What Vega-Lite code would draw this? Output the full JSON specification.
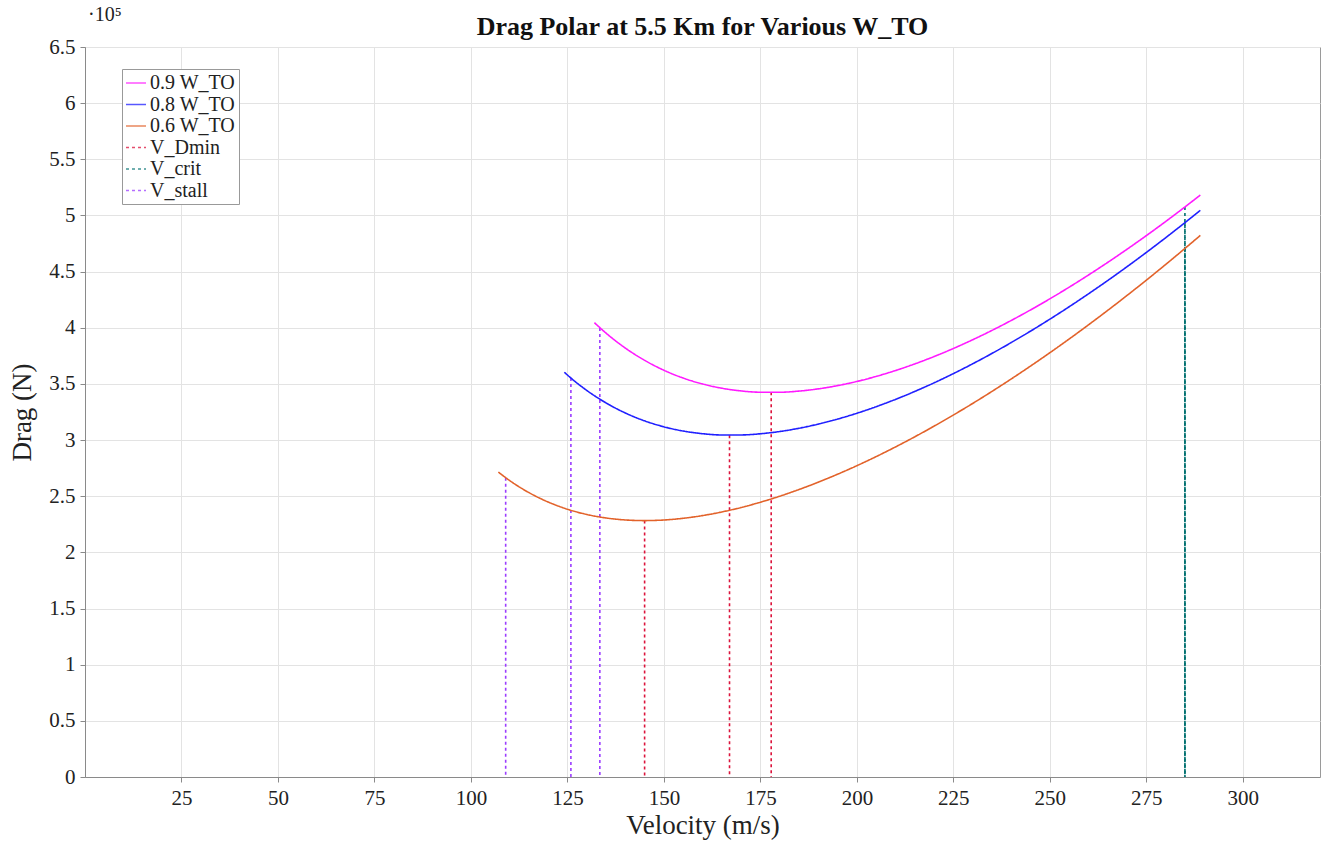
{
  "$schema": "https://vega.github.io/schema/vega-lite/v6.json",
  "width": 1235,
  "height": 730,
  "autosize": {"type": "none"},
  "padding": {"left": 85, "top": 47, "right": 3, "bottom": 67},
  "background": "white",
  "config": {
    "font": "Liberation Serif",
    "view": {"stroke": "#9a9a9a", "strokeWidth": 1},
    "axis": {
      "gridColor": "#e3e3e3",
      "gridWidth": 1,
      "domainColor": "#8a8a8a",
      "tickColor": "#8a8a8a",
      "labelFont": "Liberation Serif",
      "labelFontSize": 21,
      "labelColor": "#222222",
      "titleFont": "Liberation Serif",
      "titleFontSize": 27,
      "titleFontWeight": "normal",
      "titleColor": "#222222"
    }
  },
  "title": {
    "text": "Drag Polar at 5.5 Km for Various W_TO",
    "fontSize": 26,
    "fontWeight": "bold",
    "font": "Liberation Serif",
    "offset": 2,
    "dy": 37,
    "color": "#111111"
  },
  "datasets": {
    "curves": [
      {"series": "0.9 W_TO", "v": 132, "drag": 404529},
      {"series": "0.9 W_TO", "v": 135, "drag": 395258},
      {"series": "0.9 W_TO", "v": 140, "drag": 381938},
      {"series": "0.9 W_TO", "v": 145, "drag": 371003},
      {"series": "0.9 W_TO", "v": 150, "drag": 362175},
      {"series": "0.9 W_TO", "v": 155, "drag": 355222},
      {"series": "0.9 W_TO", "v": 160, "drag": 349946},
      {"series": "0.9 W_TO", "v": 165, "drag": 346179},
      {"series": "0.9 W_TO", "v": 170, "drag": 343778},
      {"series": "0.9 W_TO", "v": 175, "drag": 342621},
      {"series": "0.9 W_TO", "v": 180, "drag": 342599},
      {"series": "0.9 W_TO", "v": 185, "drag": 343622},
      {"series": "0.9 W_TO", "v": 190, "drag": 345607},
      {"series": "0.9 W_TO", "v": 195, "drag": 348488},
      {"series": "0.9 W_TO", "v": 200, "drag": 352200},
      {"series": "0.9 W_TO", "v": 210, "drag": 361912},
      {"series": "0.9 W_TO", "v": 220, "drag": 374382},
      {"series": "0.9 W_TO", "v": 230, "drag": 389326},
      {"series": "0.9 W_TO", "v": 240, "drag": 406518},
      {"series": "0.9 W_TO", "v": 250, "drag": 425775},
      {"series": "0.9 W_TO", "v": 260, "drag": 446950},
      {"series": "0.9 W_TO", "v": 270, "drag": 469921},
      {"series": "0.9 W_TO", "v": 280, "drag": 494590},
      {"series": "0.9 W_TO", "v": 289, "drag": 518173},
      {"series": "0.8 W_TO", "v": 124.2, "drag": 360379},
      {"series": "0.8 W_TO", "v": 125, "drag": 357932},
      {"series": "0.8 W_TO", "v": 130, "drag": 344252},
      {"series": "0.8 W_TO", "v": 135, "drag": 333091},
      {"series": "0.8 W_TO", "v": 140, "drag": 324132},
      {"series": "0.8 W_TO", "v": 145, "drag": 317115},
      {"series": "0.8 W_TO", "v": 150, "drag": 311819},
      {"series": "0.8 W_TO", "v": 155, "drag": 308063},
      {"series": "0.8 W_TO", "v": 160, "drag": 305688},
      {"series": "0.8 W_TO", "v": 165, "drag": 304563},
      {"series": "0.8 W_TO", "v": 170, "drag": 304574},
      {"series": "0.8 W_TO", "v": 175, "drag": 305625},
      {"series": "0.8 W_TO", "v": 180, "drag": 307630},
      {"series": "0.8 W_TO", "v": 185, "drag": 310517},
      {"series": "0.8 W_TO", "v": 190, "drag": 314222},
      {"series": "0.8 W_TO", "v": 195, "drag": 318692},
      {"series": "0.8 W_TO", "v": 200, "drag": 323875},
      {"series": "0.8 W_TO", "v": 210, "drag": 336220},
      {"series": "0.8 W_TO", "v": 220, "drag": 350973},
      {"series": "0.8 W_TO", "v": 230, "drag": 367909},
      {"series": "0.8 W_TO", "v": 240, "drag": 386848},
      {"series": "0.8 W_TO", "v": 250, "drag": 407647},
      {"series": "0.8 W_TO", "v": 260, "drag": 430189},
      {"series": "0.8 W_TO", "v": 270, "drag": 454379},
      {"series": "0.8 W_TO", "v": 280, "drag": 480138},
      {"series": "0.8 W_TO", "v": 289, "drag": 504608},
      {"series": "0.6 W_TO", "v": 107.1, "drag": 271519},
      {"series": "0.6 W_TO", "v": 110, "drag": 264050},
      {"series": "0.6 W_TO", "v": 115, "drag": 253286},
      {"series": "0.6 W_TO", "v": 120, "drag": 244859},
      {"series": "0.6 W_TO", "v": 125, "drag": 238444},
      {"series": "0.6 W_TO", "v": 130, "drag": 233779},
      {"series": "0.6 W_TO", "v": 135, "drag": 230649},
      {"series": "0.6 W_TO", "v": 140, "drag": 228877},
      {"series": "0.6 W_TO", "v": 145, "drag": 228316},
      {"series": "0.6 W_TO", "v": 150, "drag": 228842},
      {"series": "0.6 W_TO", "v": 155, "drag": 230352},
      {"series": "0.6 W_TO", "v": 160, "drag": 232758},
      {"series": "0.6 W_TO", "v": 165, "drag": 235986},
      {"series": "0.6 W_TO", "v": 170, "drag": 239972},
      {"series": "0.6 W_TO", "v": 175, "drag": 244661},
      {"series": "0.6 W_TO", "v": 180, "drag": 250006},
      {"series": "0.6 W_TO", "v": 185, "drag": 255966},
      {"series": "0.6 W_TO", "v": 190, "drag": 262505},
      {"series": "0.6 W_TO", "v": 195, "drag": 269592},
      {"series": "0.6 W_TO", "v": 200, "drag": 277200},
      {"series": "0.6 W_TO", "v": 210, "drag": 293885},
      {"series": "0.6 W_TO", "v": 220, "drag": 312399},
      {"series": "0.6 W_TO", "v": 230, "drag": 332616},
      {"series": "0.6 W_TO", "v": 240, "drag": 354435},
      {"series": "0.6 W_TO", "v": 250, "drag": 377775},
      {"series": "0.6 W_TO", "v": 260, "drag": 402571},
      {"series": "0.6 W_TO", "v": 270, "drag": 428769},
      {"series": "0.6 W_TO", "v": 280, "drag": 456324},
      {"series": "0.6 W_TO", "v": 289, "drag": 482254}
    ],
    "rules": [
      {"series": "V_stall", "v": 109, "top": 266500},
      {"series": "V_stall", "v": 125.9, "top": 355300},
      {"series": "V_stall", "v": 133.4, "top": 399800},
      {"series": "V_Dmin", "v": 145, "top": 228300},
      {"series": "V_Dmin", "v": 167, "top": 304300},
      {"series": "V_Dmin", "v": 177.8, "top": 342500},
      {"series": "V_crit", "v": 285, "top": 470600},
      {"series": "V_crit", "v": 285, "top": 493600},
      {"series": "V_crit", "v": 285, "top": 507500}
    ],
    "note": [
      {"label": "·10⁵"}
    ]
  },
  "layer": [
    {
      "data": {"name": "rules"},
      "mark": {"type": "rule", "strokeWidth": 1.6},
      "encoding": {
        "x": {"field": "v", "type": "quantitative"},
        "y": {"field": "top", "type": "quantitative"},
        "y2": {"datum": 0},
        "color": {"field": "series", "type": "nominal"},
        "strokeDash": {"field": "series", "type": "nominal"}
      }
    },
    {
      "data": {"name": "curves"},
      "mark": {"type": "line", "strokeWidth": 1.6, "interpolate": "monotone"},
      "encoding": {
        "x": {
          "field": "v",
          "type": "quantitative",
          "scale": {"domain": [0, 320], "nice": false, "zero": false},
          "axis": {
            "values": [25, 50, 75, 100, 125, 150, 175, 200, 225, 250, 275, 300],
            "title": "Velocity (m/s)",
            "tickSize": 5,
            "labelPadding": 5,
            "titlePadding": 4,
            "grid": true
          }
        },
        "y": {
          "field": "drag",
          "type": "quantitative",
          "scale": {"domain": [0, 650000], "nice": false},
          "axis": {
            "values": [0, 50000, 100000, 150000, 200000, 250000, 300000, 350000, 400000, 450000, 500000, 550000, 600000, 650000],
            "labelExpr": "'' + (datum.value / 100000)",
            "title": "Drag (N)",
            "tickSize": 5,
            "labelPadding": 5,
            "titlePadding": 12,
            "grid": true
          }
        },
        "color": {
          "field": "series",
          "type": "nominal",
          "scale": {
            "domain": ["0.9 W_TO", "0.8 W_TO", "0.6 W_TO", "V_Dmin", "V_crit", "V_stall"],
            "range": ["#ff1aff", "#2020ff", "#e2622a", "#dc143c", "#007070", "#9b3dff"]
          },
          "legend": {
            "title": null,
            "orient": "none",
            "legendX": 37,
            "legendY": 22,
            "symbolType": "stroke",
            "symbolSize": 400,
            "symbolStrokeWidth": 1.6,
            "symbolOpacity": 0.75,
            "labelFont": "Liberation Serif",
            "labelFontSize": 20,
            "labelColor": "#222222",
            "labelOffset": 3,
            "rowPadding": 0.5,
            "padding": 3,
            "strokeColor": "#999999",
            "fillColor": "white"
          }
        },
        "strokeDash": {
          "field": "series",
          "type": "nominal",
          "scale": {
            "domain": ["0.9 W_TO", "0.8 W_TO", "0.6 W_TO", "V_Dmin", "V_crit", "V_stall"],
            "range": [[1, 0], [1, 0], [1, 0], [3, 3], [3, 3], [3, 3]]
          },
          "legend": {"title": null}
        }
      }
    },
    {
      "data": {"name": "note"},
      "mark": {"type": "text", "align": "left", "baseline": "bottom", "dx": 3, "dy": -22, "fontSize": 20, "font": "Liberation Serif", "color": "#222222"},
      "encoding": {
        "x": {"datum": 0, "type": "quantitative"},
        "y": {"datum": 650000, "type": "quantitative"},
        "text": {"field": "label", "type": "nominal"}
      }
    }
  ]
}
